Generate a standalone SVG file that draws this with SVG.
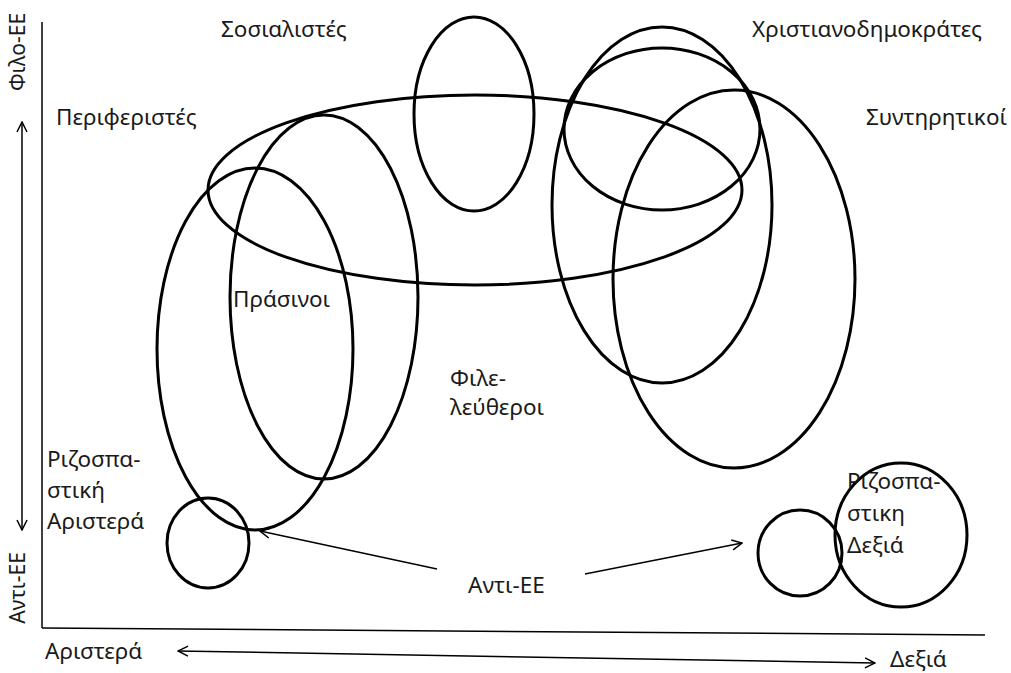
<svg xmlns="http://www.w3.org/2000/svg" width="1011" height="673" viewBox="0 0 1011 673">
<style>
.e{fill:none;stroke:#000;stroke-width:3}
.ax{fill:none;stroke:#000;stroke-width:1.5}
.t{font-family:"Noto Sans","Open Sans",sans-serif;font-size:22.5px;fill:#1a1a1a}
.r{font-size:21px}
</style>
<defs>
<marker id="ah" viewBox="0 0 12 12" refX="11" refY="6" markerWidth="12" markerHeight="12" markerUnits="userSpaceOnUse" orient="auto-start-reverse">
<path d="M1,1 L11,6 L1,11" fill="none" stroke="#000" stroke-width="1.5"/>
</marker>
</defs>
<rect width="1011" height="673" fill="#fff"/>
<g id="axes">
<line class="ax" x1="42" y1="22" x2="42" y2="628"/>
<line class="ax" x1="42" y1="628" x2="985" y2="635"/>
<line class="ax" x1="22" y1="122" x2="22" y2="530" marker-start="url(#ah)" marker-end="url(#ah)"/>
<line class="ax" x1="178" y1="651" x2="875" y2="663" marker-start="url(#ah)" marker-end="url(#ah)"/>
<text class="t r" transform="translate(25,52) rotate(-90)" text-anchor="middle">Φιλο-ΕΕ</text>
<text class="t r" transform="translate(25,588) rotate(-90)" text-anchor="middle">Αντι-ΕΕ</text>
<text class="t" x="45" y="659">Αριστερά</text>
<text class="t" x="890" y="667">Δεξιά</text>
</g>
<g id="liberals"><ellipse class="e" cx="475" cy="190" rx="267" ry="95"/><text class="t" x="450" y="386">Φιλε-</text><text class="t" x="450" y="415">λεύθεροι</text></g>
<g id="socialists"><ellipse class="e" cx="474" cy="114" rx="60" ry="97"/><text class="t" x="221" y="37">Σοσιαλιστές</text></g>
<g id="regionalists"><ellipse class="e" cx="255" cy="349" rx="98" ry="181"/><text class="t" x="56" y="125">Περιφεριστές</text></g>
<g id="greens"><ellipse class="e" cx="324" cy="297" rx="94" ry="182"/><text class="t" x="233" y="307">Πράσινοι</text></g>
<g id="christian-democrats"><ellipse class="e" cx="662" cy="129" rx="98" ry="81"/><text class="t" x="752" y="37">Χριστιανοδημοκράτες</text></g>
<g id="christian-democrats-2"><ellipse class="e" cx="662" cy="205" rx="110" ry="178"/></g>
<g id="conservatives"><ellipse class="e" cx="734" cy="279" rx="121" ry="189"/><text class="t" x="866" y="125">Συντηρητικοί</text></g>
<g id="radical-left"><ellipse class="e" cx="208" cy="543" rx="41" ry="45"/><text class="t" x="47" y="467">Ριζοσπα-</text><text class="t" x="47" y="498">στική</text><text class="t" x="47" y="529">Αριστερά</text></g>
<g id="radical-right-circle"><ellipse class="e" cx="800" cy="553" rx="42" ry="43"/></g>
<g id="radical-right"><ellipse class="e" cx="901" cy="535" rx="66" ry="72"/><text class="t" x="847" y="489">Ριζοσπα-</text><text class="t" x="847" y="521">στικη</text><text class="t" x="847" y="553">Δεξιά</text></g>
<g id="anti-eu"><text class="t" x="468" y="593">Αντι-ΕΕ</text></g>
<g id="connectors">
<line class="ax" x1="437" y1="569" x2="260" y2="531" marker-end="url(#ah)"/>
<line class="ax" x1="585" y1="574" x2="742" y2="543" marker-end="url(#ah)"/>
</g>
</svg>
